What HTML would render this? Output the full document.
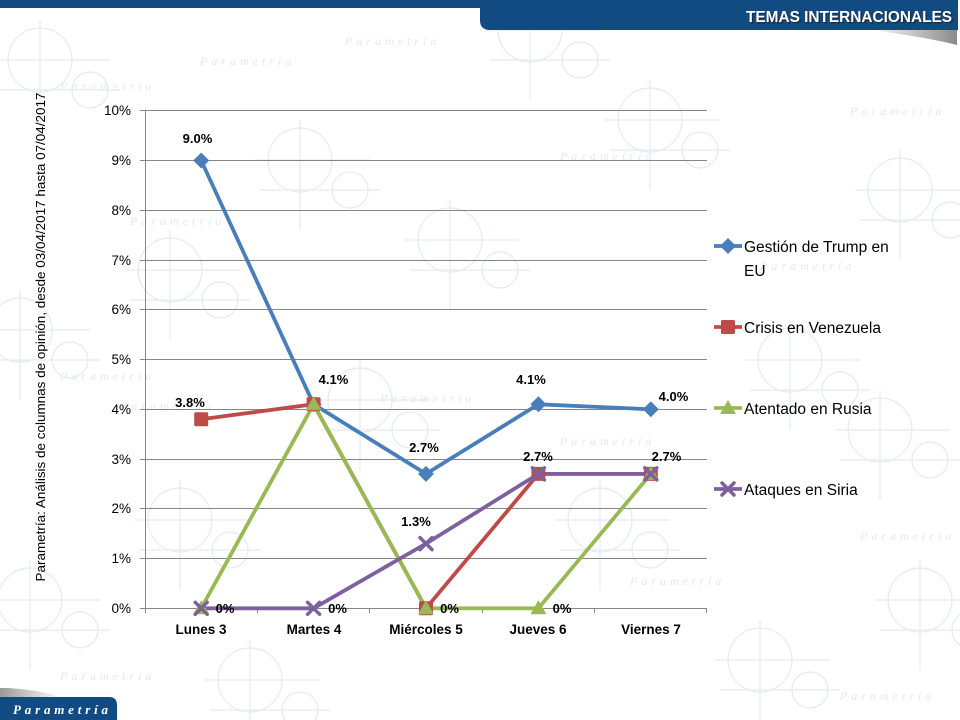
<!DOCTYPE html>
<html><head><meta charset="utf-8"><style>
html,body{margin:0;padding:0;background:#fff;}
svg{display:block;}
text{font-family:"Liberation Sans",sans-serif;}
</style></head><body>
<svg width="960" height="720" viewBox="0 0 960 720" xmlns="http://www.w3.org/2000/svg">
<defs>
<linearGradient id="sh" x1="0" y1="0" x2="1" y2="0"><stop offset="0" stop-color="#ffffff"/><stop offset="1" stop-color="#8a8a8a"/></linearGradient>
<linearGradient id="sh2" x1="0" y1="0" x2="1" y2="0"><stop offset="0" stop-color="#9a9a9a"/><stop offset="1" stop-color="#ffffff"/></linearGradient>
<g id="wm" fill="none" stroke="#e2ebf2" stroke-width="1.2">
<circle cx="0" cy="0" r="32"/><circle cx="50" cy="30" r="18"/><line x1="-45" y1="0" x2="70" y2="0"/><line x1="0" y1="-40" x2="0" y2="70"/><line x1="-40" y1="30" x2="80" y2="30"/>
</g>
</defs>
<rect width="960" height="720" fill="#fff"/>
<!-- watermark -->
<g>
<use href="#wm" x="40" y="60"/><use href="#wm" x="530" y="30"/><use href="#wm" x="300" y="160"/>
<use href="#wm" x="900" y="190"/><use href="#wm" x="450" y="240"/><use href="#wm" x="170" y="270"/>
<use href="#wm" x="880" y="430"/><use href="#wm" x="30" y="600"/><use href="#wm" x="360" y="400"/>
<use href="#wm" x="600" y="520"/><use href="#wm" x="180" y="520"/><use href="#wm" x="790" y="360"/>
<use href="#wm" x="920" y="600"/><use href="#wm" x="250" y="680"/><use href="#wm" x="760" y="660"/>
<use href="#wm" x="650" y="120"/><use href="#wm" x="20" y="330"/>
</g>
<g fill="#e0e9f1" font-style="italic" font-size="12" letter-spacing="4">
<text x="345" y="45" style="font-family:'Liberation Serif',serif">Parametría</text>
<text x="60" y="90" style="font-family:'Liberation Serif',serif">Parametría</text>
<text x="200" y="65" style="font-family:'Liberation Serif',serif">Parametría</text>
<text x="560" y="160" style="font-family:'Liberation Serif',serif">Parametría</text>
<text x="850" y="115" style="font-family:'Liberation Serif',serif">Parametría</text>
<text x="130" y="225" style="font-family:'Liberation Serif',serif">Parametría</text>
<text x="760" y="270" style="font-family:'Liberation Serif',serif">Parametría</text>
<text x="380" y="402" style="font-family:'Liberation Serif',serif">Parametría</text>
<text x="560" y="445" style="font-family:'Liberation Serif',serif">Parametría</text>
<text x="860" y="540" style="font-family:'Liberation Serif',serif">Parametría</text>
<text x="630" y="585" style="font-family:'Liberation Serif',serif">Parametría</text>
<text x="60" y="380" style="font-family:'Liberation Serif',serif">Parametría</text>
<text x="120" y="410" style="font-family:'Liberation Serif',serif">Parametría</text>
<text x="60" y="680" style="font-family:'Liberation Serif',serif">Parametría</text>
<text x="840" y="700" style="font-family:'Liberation Serif',serif">Parametría</text>
</g>
<!-- header -->
<rect x="0" y="0" width="958" height="8" fill="#124a82"/>
<path d="M870,30 L957,30 L957,45 Q925,37 870,30 Z" fill="url(#sh)"/>
<path d="M480,0 L948,0 Q958,0 958,10 L958,30 L490,30 Q480,30 480,20 Z" fill="#124a82"/>
<text x="746" y="22" font-size="15.5" font-weight="bold" fill="#222" opacity="0.6" textLength="206" lengthAdjust="spacingAndGlyphs" transform="translate(1.5,1.5)">TEMAS INTERNACIONALES</text>
<text x="746" y="22" font-size="15.5" font-weight="bold" fill="#fff" textLength="206" lengthAdjust="spacingAndGlyphs">TEMAS INTERNACIONALES</text>
<!-- bottom logo -->
<path d="M0,688 L8,688 Q40,690 62,697 L0,697 Z" fill="url(#sh2)"/>
<path d="M0,697 L109,697 Q117,697 117,705 L117,720 L0,720 Z" fill="#124a82"/>
<text x="13" y="714" font-size="13" font-style="italic" font-weight="bold" fill="#fff" textLength="95" lengthAdjust="spacing" style="font-family:'Liberation Serif',serif">Parametría</text>
<!-- vertical title -->
<text transform="translate(45,337) rotate(-90)" text-anchor="middle" font-size="12.5" fill="#000" textLength="489" lengthAdjust="spacingAndGlyphs">Parametría: Análisis de columnas de opinión, desde 03/04/2017 hasta 07/04/2017</text>
<!-- grid -->
<g stroke="#868686" stroke-width="1" shape-rendering="crispEdges">
<line x1="140" y1="110.5" x2="707" y2="110.5"/>
<line x1="140" y1="160.5" x2="707" y2="160.5"/>
<line x1="140" y1="210.5" x2="707" y2="210.5"/>
<line x1="140" y1="260.5" x2="707" y2="260.5"/>
<line x1="140" y1="309.5" x2="707" y2="309.5"/>
<line x1="140" y1="359.5" x2="707" y2="359.5"/>
<line x1="140" y1="409.5" x2="707" y2="409.5"/>
<line x1="140" y1="459.5" x2="707" y2="459.5"/>
<line x1="140" y1="508.5" x2="707" y2="508.5"/>
<line x1="140" y1="558.5" x2="707" y2="558.5"/>
<line x1="140" y1="608.5" x2="707" y2="608.5"/>
<line x1="145.5" y1="110" x2="145.5" y2="613"/>
<line x1="257.5" y1="608" x2="257.5" y2="613"/>
<line x1="369.5" y1="608" x2="369.5" y2="613"/>
<line x1="482.5" y1="608" x2="482.5" y2="613"/>
<line x1="594.5" y1="608" x2="594.5" y2="613"/>
<line x1="706.5" y1="608" x2="706.5" y2="613"/>
</g>
<!-- y labels -->
<g font-size="13.5" fill="#000" text-anchor="end">
<text x="131" y="115">10%</text>
<text x="131" y="165">9%</text>
<text x="131" y="215">8%</text>
<text x="131" y="265">7%</text>
<text x="131" y="314">6%</text>
<text x="131" y="364">5%</text>
<text x="131" y="414">4%</text>
<text x="131" y="464">3%</text>
<text x="131" y="513">2%</text>
<text x="131" y="563">1%</text>
<text x="131" y="613">0%</text>
</g>
<!-- x labels -->
<g font-size="13.5" font-weight="bold" fill="#000" text-anchor="middle">
<text x="201" y="634">Lunes 3</text>
<text x="314" y="634">Martes 4</text>
<text x="426" y="634">Miércoles 5</text>
<text x="538" y="634">Jueves 6</text>
<text x="651" y="634">Viernes 7</text>
</g>
<!-- series -->
<g fill="none" stroke-width="3.8" stroke-linejoin="round">
<polyline stroke="#4a7ebb" points="201.2,160.5 313.6,404.3 426,473.9 538.4,404.3 650.8,409.3"/>
<polyline stroke="#be4b48" points="201.2,419.2 313.6,404.3 426,608.3 538.4,473.9 650.8,473.9"/>
<polyline stroke="#98b954" points="201.2,608.3 313.6,404.3 426,608.3 538.4,608.3 650.8,473.9"/>
<polyline stroke="#7d60a0" points="201.2,608.3 313.6,608.3 426,543.6 538.4,473.9 650.8,473.9"/>
</g>
<!-- markers -->
<g fill="#4a7ebb">
<path d="M201.2,152.5 l8,8 l-8,8 l-8,-8 Z"/>
<path d="M313.6,396.3 l8,8 l-8,8 l-8,-8 Z"/>
<path d="M426,465.9 l8,8 l-8,8 l-8,-8 Z"/>
<path d="M538.4,396.3 l8,8 l-8,8 l-8,-8 Z"/>
<path d="M650.8,401.3 l8,8 l-8,8 l-8,-8 Z"/>
</g>
<g fill="#be4b48">
<rect x="194.2" y="412.2" width="14" height="14" rx="1.5"/>
<rect x="306.6" y="397.3" width="14" height="14" rx="1.5"/>
<rect x="419" y="601.3" width="14" height="14" rx="1.5"/>
<rect x="531.4" y="466.9" width="14" height="14" rx="1.5"/>
<rect x="643.8" y="466.9" width="14" height="14" rx="1.5"/>
</g>
<g fill="#98b954">
<path d="M201.2,600.3 l8,14 l-16,0 Z"/>
<path d="M313.6,396.3 l8,14 l-16,0 Z"/>
<path d="M426,600.3 l8,14 l-16,0 Z"/>
<path d="M538.4,600.3 l8,14 l-16,0 Z"/>
<path d="M650.8,465.9 l8,14 l-16,0 Z"/>
</g>
<g stroke="#7d60a0" stroke-width="3.5" stroke-linecap="round">
<path d="M195.2,602.3 l12,12 M207.2,602.3 l-12,12"/>
<path d="M307.6,602.3 l12,12 M319.6,602.3 l-12,12"/>
<path d="M420,537.6 l12,12 M432,537.6 l-12,12"/>
<path d="M532.4,467.9 l12,12 M544.4,467.9 l-12,12"/>
<path d="M644.8,467.9 l12,12 M656.8,467.9 l-12,12"/>
</g>
<!-- data labels -->
<g font-size="13" font-weight="bold" fill="#000" text-anchor="middle">
<text x="197.5" y="143">9.0%</text>
<text x="333.5" y="384">4.1%</text>
<text x="424" y="452">2.7%</text>
<text x="531" y="384">4.1%</text>
<text x="673.5" y="401">4.0%</text>
<text x="190" y="407">3.8%</text>
<text x="538" y="461">2.7%</text>
<text x="666.5" y="461">2.7%</text>
<text x="416" y="526">1.3%</text>
<text x="225" y="613">0%</text>
<text x="337.5" y="613">0%</text>
<text x="449.5" y="613">0%</text>
<text x="562" y="613">0%</text>
</g>
<!-- legend -->
<g stroke-width="3.8">
<line x1="714" y1="246" x2="742" y2="246" stroke="#4a7ebb"/>
<line x1="714" y1="327" x2="742" y2="327" stroke="#be4b48"/>
<line x1="714" y1="408" x2="742" y2="408" stroke="#98b954"/>
<line x1="714" y1="489" x2="742" y2="489" stroke="#7d60a0"/>
</g>
<path d="M728,238 l8,8 l-8,8 l-8,-8 Z" fill="#4a7ebb"/>
<rect x="721" y="320" width="14" height="14" rx="1.5" fill="#be4b48"/>
<path d="M728,400 l8,14 l-16,0 Z" fill="#98b954"/>
<path d="M722,483 l12,12 M734,483 l-12,12" stroke="#7d60a0" stroke-width="3.5" stroke-linecap="round"/>
<g font-size="15.5" fill="#000">
<text x="744" y="252">Gestión de Trump en</text>
<text x="744" y="276">EU</text>
<text x="744" y="333">Crisis en Venezuela</text>
<text x="744" y="414">Atentado en Rusia</text>
<text x="744" y="495">Ataques en Siria</text>
</g>
</svg>
</body></html>
